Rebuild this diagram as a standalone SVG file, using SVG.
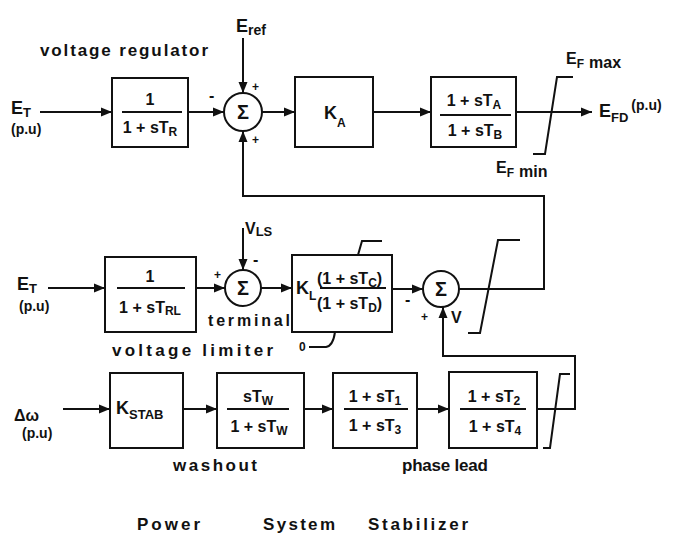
<svg xmlns="http://www.w3.org/2000/svg" width="692" height="536" viewBox="0 0 692 536">
<style>
.bg{fill:#fff}
.blk{fill:none;stroke:#111;stroke-width:2}
.ln{fill:none;stroke:#111;stroke-width:2}
.fl{fill:none;stroke:#111;stroke-width:1.8}
.t{font-family:"Liberation Sans",Arial,sans-serif;font-weight:bold;fill:#111}
.m{font-size:16px}
.b{font-size:18px}
.s{font-size:12px}
.lab{font-size:17px}
.sg{font-size:20px;text-anchor:middle}
.c{text-anchor:middle}
</style>
<defs>
<marker id="ah" markerUnits="userSpaceOnUse" markerWidth="12" markerHeight="10" refX="11" refY="5" orient="auto">
<path d="M0,0.5 L11,5 L0,9.5 z" fill="#111"/>
</marker>
</defs>
<rect class="bg" x="0" y="0" width="692" height="536"/>

<g id="connectors">
<path class="ln" d="M40,112 H112" marker-end="url(#ah)"/>
<path class="ln" d="M188,112 H224" marker-end="url(#ah)"/>
<path class="ln" d="M243,38 V93" marker-end="url(#ah)"/>
<path class="ln" d="M262,112 H295" marker-end="url(#ah)"/>
<path class="ln" d="M373,112 H431" marker-end="url(#ah)"/>
<path class="ln" d="M516,112 H592" marker-end="url(#ah)"/>
<path class="ln" d="M533,154 H545 L557,77 H573"/>
<path class="ln" d="M459,289 H544 V196 H243 V131" marker-end="url(#ah)"/>
<path class="ln" d="M468,333 H480 L498,240 H520"/>
<path class="ln" d="M48,288 H105" marker-end="url(#ah)"/>
<path class="ln" d="M196,288 H225" marker-end="url(#ah)"/>
<path class="ln" d="M243,228 V270" marker-end="url(#ah)"/>
<path class="ln" d="M261,288 H292" marker-end="url(#ah)"/>
<path class="ln" d="M392,289 H423" marker-end="url(#ah)"/>
<path class="ln" d="M358,255 L362,241 H382"/>
<path class="ln" d="M309,347 H326 Q333,346 335,332"/>
<path class="ln" d="M63,409 H110" marker-end="url(#ah)"/>
<path class="ln" d="M183,409 H217" marker-end="url(#ah)"/>
<path class="ln" d="M304,409 H333" marker-end="url(#ah)"/>
<path class="ln" d="M417,409 H449" marker-end="url(#ah)"/>
<path class="ln" d="M537,409 H575 V356 H443 V307" marker-end="url(#ah)"/>
<path class="ln" d="M543,448 H550 L560,374 H570"/>
</g>

<g id="sum1">
<circle class="blk" cx="243" cy="112" r="19"/>
<text class="t sg" x="243" y="119">Σ</text>
<text class="t m" x="209" y="101">-</text>
<text class="t s" x="252" y="91">+</text>
<text class="t s" x="252" y="144">+</text>
</g>
<g id="sum2">
<circle class="blk" cx="243" cy="288" r="18"/>
<text class="t sg" x="243" y="295">Σ</text>
<text class="t s" x="214" y="279">+</text>
<text class="t m" x="253" y="265">-</text>
</g>
<g id="sum3">
<circle class="blk" cx="441" cy="289" r="18"/>
<text class="t sg" x="441" y="296">Σ</text>
<text class="t m" x="405" y="305">-</text>
<text class="t s" x="421" y="321">+</text>
<text class="t m" x="451" y="323">V</text>
</g>

<g id="block-TR">
<rect class="blk" x="112" y="78" width="76" height="69"/>
<text class="t m c" x="150" y="105">1</text>
<path class="fl" d="M122,112 H182"/>
<text class="t m c" x="150" y="133">1 + sT<tspan class="s" dy="3">R</tspan></text>
</g>
<g id="block-KA">
<rect class="blk" x="295" y="77" width="78" height="70"/>
<text class="t b" x="324" y="119">K<tspan class="s" font-size="13" dy="8">A</tspan></text>
</g>
<g id="block-TATB">
<rect class="blk" x="431" y="77" width="85" height="70"/>
<text class="t m c" x="474" y="106">1 + sT<tspan class="s" dy="3">A</tspan></text>
<path class="fl" d="M440,115 H511"/>
<text class="t m c" x="475" y="136">1 + sT<tspan class="s" dy="3">B</tspan></text>
</g>

<g id="block-TRL">
<rect class="blk" x="105" y="257" width="91" height="75"/>
<text class="t m c" x="150" y="282">1</text>
<path class="fl" d="M117,288 H185"/>
<text class="t m c" x="150" y="313">1 + sT<tspan class="s" dy="2">RL</tspan></text>
</g>
<g id="block-KL">
<rect class="blk" x="292" y="255" width="100" height="77"/>
<text class="t b" x="296" y="294">K<tspan class="s" font-size="13" dy="6">L</tspan></text>
<text class="t m" x="317" y="284">(1 + sT<tspan class="s" dy="3">C</tspan><tspan dy="-3">)</tspan></text>
<path class="fl" d="M320,288 H386"/>
<text class="t m" x="317" y="309">(1 + sT<tspan class="s" dy="3">D</tspan><tspan dy="-3">)</tspan></text>
<text class="t s" x="299" y="351">0</text>
</g>

<g id="block-KSTAB">
<rect class="blk" x="110" y="373" width="73" height="75"/>
<text class="t b" x="116" y="414">K<tspan font-size="13" dy="5">STAB</tspan></text>
</g>
<g id="block-washout">
<rect class="blk" x="217" y="373" width="87" height="75"/>
<text class="t m c" x="258" y="402">sT<tspan class="s" dy="3">W</tspan></text>
<path class="fl" d="M227,409 H289"/>
<text class="t m c" x="259" y="432">1 + sT<tspan class="s" dy="3">W</tspan></text>
</g>
<g id="block-T1T3">
<rect class="blk" x="333" y="373" width="84" height="75"/>
<text class="t m c" x="375" y="402">1 + sT<tspan class="s" dy="3">1</tspan></text>
<path class="fl" d="M344,409 H408"/>
<text class="t m c" x="375" y="431">1 + sT<tspan class="s" dy="3">3</tspan></text>
</g>
<g id="block-T2T4">
<rect class="blk" x="449" y="372" width="88" height="76"/>
<text class="t m c" x="494" y="402">1 + sT<tspan class="s" dy="3">2</tspan></text>
<path class="fl" d="M460,409 H526"/>
<text class="t m c" x="495" y="432">1 + sT<tspan class="s" dy="3">4</tspan></text>
</g>

<g id="labels">
<text class="t lab" x="40" y="56" textLength="168" lengthAdjust="spacing">voltage regulator</text>
<text class="t b" x="236" y="32">E<tspan font-size="14" dy="3">ref</tspan></text>
<text class="t b" x="11" y="114">E<tspan font-size="13" dy="3">T</tspan></text>
<text class="t" font-size="14" x="11" y="134">(p.u)</text>
<text class="t b" x="599" y="117">E<tspan font-size="13" dy="5">FD</tspan><tspan font-size="14" dy="-12" dx="3">(p.u)</tspan></text>
<text class="t m" x="566" y="64">E<tspan font-size="12" dy="4">F</tspan><tspan dx="5" dy="0">max</tspan></text>
<text class="t m" x="496" y="173">E<tspan font-size="12" dy="4">F</tspan><tspan dx="5" dy="0">min</tspan></text>
<text class="t m" x="245" y="234">V<tspan font-size="13" dy="2">LS</tspan></text>
<text class="t b" x="17" y="290">E<tspan font-size="13" dy="3">T</tspan></text>
<text class="t" font-size="14" x="19" y="311">(p.u)</text>
<text class="t m" x="208" y="326" textLength="82" lengthAdjust="spacing">terminal</text>
<text class="t lab" x="112" y="356" textLength="161" lengthAdjust="spacing">voltage limiter</text>
<text class="t m" x="14" y="421">Δω</text>
<text class="t" font-size="14" x="22" y="438">(p.u)</text>
<text class="t lab" x="173" y="471" textLength="84" lengthAdjust="spacing">washout</text>
<text class="t lab" x="402" y="471" textLength="86" lengthAdjust="spacing">phase lead</text>
<text class="t lab" x="137" y="530" textLength="63" lengthAdjust="spacing">Power</text>
<text class="t lab" x="263" y="530" textLength="72" lengthAdjust="spacing">System</text>
<text class="t lab" x="368" y="530" textLength="100" lengthAdjust="spacing">Stabilizer</text>
</g>
</svg>
